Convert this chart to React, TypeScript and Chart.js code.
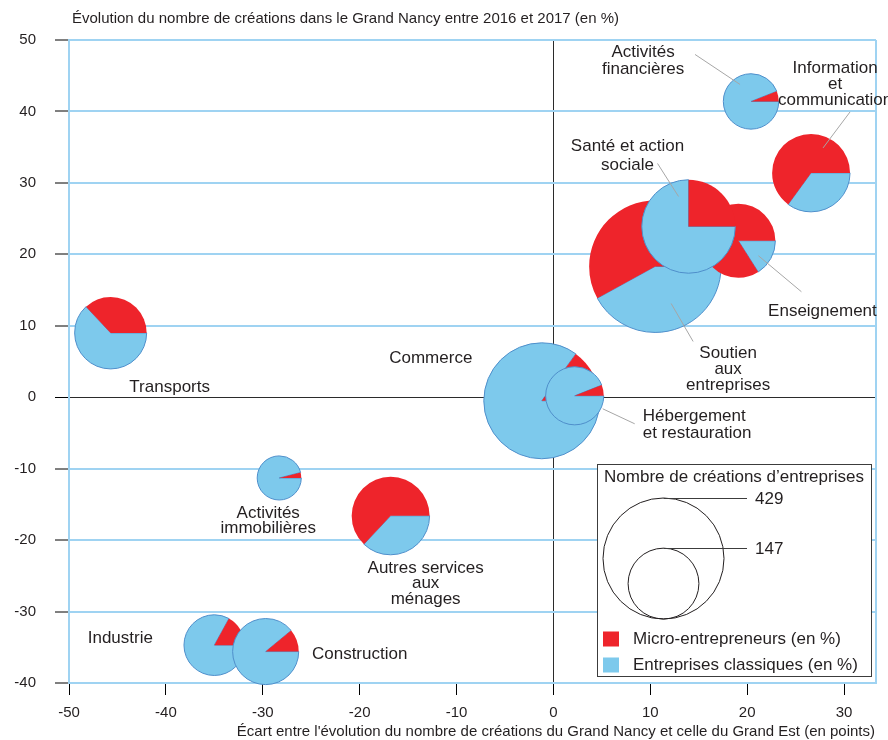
import React, { useEffect, useRef } from 'react';
import { Chart, registerables } from 'chart.js';

Chart.register(...registerables);

// ---------------- data ----------------
const sectors = [
  'Transports',
  'Activités financières',
  'Information et communication',
  'Soutien aux entreprises',
  'Enseignement',
  'Santé et action sociale',
  'Commerce',
  'Hébergement et restauration',
  'Activités immobilières',
  'Autres services aux ménages',
  'Industrie',
  'Construction',
];
// x : écart avec le Grand Est (points)
const gapVsGrandEst = [-45.7, 20.4, 26.6, 10.5, 19.1, 13.95, -1.2, 2.2, -28.3, -16.8, -35.0, -29.7];
// y : évolution des créations dans le Grand Nancy (%)
const evolution = [9.0, 41.4, 31.4, 18.3, 21.9, 23.9, -0.5, 0.2, -11.3, -16.6, -34.7, -35.6];
// nombre de créations d'entreprises
const creations = [152, 90, 178, 510, 160, 256, 394, 99, 57, 178, 108, 128];
// parts (%)
const microPct = [37, 6, 65, 58, 84, 25, 15, 6, 4, 63, 17, 11];
const classicPct = [63, 94, 35, 42, 16, 75, 85, 94, 96, 37, 83, 89];

const xTicks = [-50, -40, -30, -20, -10, 0, 10, 20, 30];
const yTicks = [-40, -30, -20, -10, 0, 10, 20, 30, 40, 50];
const legendSizes = [429, 147];

const titleText = 'Évolution du nombre de créations dans le Grand Nancy entre 2016 et 2017 (en %)';
const xTitleText = "Écart entre l'évolution du nombre de créations du Grand Nancy et celle du Grand Est (en points)";
const legendTitle = 'Nombre de créations d’entreprises';
const legendItems = ['Micro-entrepreneurs (en %)', 'Entreprises classiques (en %)'];

// ---------------- styles / layout ----------------
const RED = '#ee242b';
const BLUE = '#7dc9ec';
const OUTLINE = '#4f8fcb';
const GRID = '#9fd3f2';
const TEXT = '#231f20';
const LEADER = '#a6a6a6';
const FONT = '"Liberation Sans", Arial, Helvetica, sans-serif';
const R_REF = 60.5; // px radius for legendSizes[0]
const radiusFor = (n: number) => R_REF * Math.sqrt(n / legendSizes[0]);

type Ann = {
  lines: string[];
  dx: number;
  dy: number;
  lh: number;
  align?: CanvasTextAlign;
  leader?: [number, number, number, number];
};
// label offsets relative to each pie centre (px)
const annotations: Ann[] = [
  { lines: ['Transports'], dx: 59, dy: 54, lh: 17 },
  { lines: ['Activités', 'financières'], dx: -108, dy: -49, lh: 16.6, leader: [-56, -47, -11, -17] },
  { lines: ['Information', 'et', 'communication'], dx: 24, dy: -105, lh: 16, leader: [39, -61, 12, -25] },
  { lines: ['Soutien', 'aux', 'entreprises'], dx: 73, dy: 87, lh: 16, leader: [16, 37, 38, 75] },
  { lines: ['Enseignement'], dx: 84, dy: 71, lh: 17, leader: [20, 15, 63, 51] },
  { lines: ['Santé et action', 'sociale'], dx: -61, dy: -80, lh: 19, leader: [-31, -63, -10, -30] },
  { lines: ['Commerce'], dx: -111, dy: -42, lh: 17 },
  { lines: ['Hébergement', 'et restauration'], dx: 68, dy: 21, lh: 17, align: 'left', leader: [28, 13, 60, 28] },
  { lines: ['Activités', 'immobilières'], dx: -11, dy: 35, lh: 15.5 },
  { lines: ['Autres services', 'aux', 'ménages'], dx: 35, dy: 52, lh: 15.5 },
  { lines: ['Industrie'], dx: -94, dy: -7, lh: 17 },
  { lines: ['Construction'], dx: 94, dy: 3, lh: 17 },
];

const piePlugin = {
  id: 'pies',
  afterDatasetsDraw(chart: any) {
    const ctx: CanvasRenderingContext2D = chart.ctx;
    const meta = chart.getDatasetMeta(0);
    ctx.save();
    meta.data.forEach((pt: any, i: number) => {
      const cx = pt.x;
      const cy = pt.y;
      const r = radiusFor(creations[i]);
      const aRed = (microPct[i] / 100) * Math.PI * 2;
      const aBlue = (classicPct[i] / 100) * Math.PI * 2;
      // classic (blue), clockwise from 3 o'clock
      ctx.beginPath();
      ctx.moveTo(cx, cy);
      ctx.arc(cx, cy, r, 0, aBlue, false);
      ctx.closePath();
      ctx.fillStyle = BLUE;
      ctx.fill();
      ctx.strokeStyle = OUTLINE;
      ctx.lineWidth = 1;
      ctx.stroke();
      // micro (red), counter-clockwise from 3 o'clock
      ctx.beginPath();
      ctx.moveTo(cx, cy);
      ctx.arc(cx, cy, r, 0, -aRed, true);
      ctx.closePath();
      ctx.fillStyle = RED;
      ctx.fill();
    });
    ctx.restore();
  },
  afterDraw(chart: any) {
    const ctx: CanvasRenderingContext2D = chart.ctx;
    const area = chart.chartArea;
    const meta = chart.getDatasetMeta(0);
    ctx.save();
    // right border
    ctx.strokeStyle = GRID;
    ctx.lineWidth = 2;
    ctx.beginPath();
    ctx.moveTo(area.right, area.top);
    ctx.lineTo(area.right, area.bottom);
    ctx.stroke();

    // annotations
    ctx.font = `17px ${FONT}`;
    ctx.fillStyle = TEXT;
    ctx.textBaseline = 'middle';
    annotations.forEach((a, i) => {
      const pt = meta.data[i];
      if (a.leader) {
        ctx.strokeStyle = LEADER;
        ctx.lineWidth = 1;
        ctx.beginPath();
        ctx.moveTo(pt.x + a.leader[0], pt.y + a.leader[1]);
        ctx.lineTo(pt.x + a.leader[2], pt.y + a.leader[3]);
        ctx.stroke();
      }
      ctx.textAlign = a.align || 'center';
      a.lines.forEach((line, k) => {
        ctx.fillText(line, pt.x + a.dx, pt.y + a.dy + k * a.lh);
      });
    });

    // titles
    ctx.font = `15px ${FONT}`;
    ctx.textAlign = 'left';
    ctx.fillText(titleText, 72, 19);
    ctx.textAlign = 'right';
    ctx.fillText(xTitleText, area.right - 1, 732);

    // legend box
    const bx = 597, by = 464, bw = 274, bh = 212;
    ctx.fillStyle = '#ffffff';
    ctx.fillRect(bx, by, bw, bh);
    ctx.strokeStyle = '#3c3c3c';
    ctx.lineWidth = 1;
    ctx.strokeRect(bx + 0.5, by + 0.5, bw, bh);
    ctx.fillStyle = TEXT;
    ctx.font = `17px ${FONT}`;
    ctx.textAlign = 'center';
    ctx.fillText(legendTitle, bx + bw / 2, by + 13);

    const ccx = 663.5;
    const baseY = 619;
    legendSizes.forEach((n) => {
      const r = radiusFor(n);
      ctx.strokeStyle = '#231f20';
      ctx.lineWidth = 1;
      ctx.beginPath();
      ctx.arc(ccx, baseY - r, r, 0, Math.PI * 2);
      ctx.stroke();
      const top = Math.round(baseY - 2 * r) + 0.5;
      ctx.strokeStyle = '#3c3c3c';
      ctx.beginPath();
      ctx.moveTo(ccx, top);
      ctx.lineTo(747, top);
      ctx.stroke();
      ctx.fillStyle = TEXT;
      ctx.textAlign = 'left';
      ctx.fillText(String(n), 755, top + 1);
    });

    const swatches = [RED, BLUE];
    legendItems.forEach((t, k) => {
      const y = 639 + k * 26;
      ctx.fillStyle = swatches[k];
      ctx.fillRect(603, y - 7.5, 16, 15);
      ctx.fillStyle = TEXT;
      ctx.textAlign = 'left';
      ctx.fillText(t, 633, y);
    });
    ctx.restore();
  },
};

export default function App() {
  const canvasRef = useRef<HTMLCanvasElement | null>(null);

  useEffect(() => {
    if (!canvasRef.current) return;
    const chart = new Chart(canvasRef.current, {
      type: 'scatter',
      data: {
        labels: sectors,
        datasets: [
          {
            label: 'Secteurs',
            data: gapVsGrandEst.map((x, i) => ({ x, y: evolution[i] })),
            pointRadius: 0,
            pointHoverRadius: 0,
          },
        ],
      },
      options: {
        responsive: false,
        animation: false,
        devicePixelRatio: 1,
        layout: { padding: { top: 40, right: 12, left: 0, bottom: 0 } },
        plugins: { legend: { display: false }, tooltip: { enabled: false }, title: { display: false } },
        events: [],
        scales: {
          x: {
            type: 'linear',
            min: -50,
            max: 33.3,
            afterFit: (s: any) => {
              s.height = 57;
            },
            afterBuildTicks: (s: any) => {
              s.ticks = xTicks.map((v) => ({ value: v }));
            },
            ticks: { font: { family: FONT, size: 15 }, color: TEXT, padding: 9, maxRotation: 0 },
            grid: {
              color: (c: any) => (c.tick && c.tick.value === 0 ? '#2b2b2b' : 'rgba(0,0,0,0)'),
              lineWidth: 1,
              tickColor: '#000',
              tickLength: 12,
              tickWidth: 1,
            },
            border: { display: true, color: GRID, width: 2 },
          },
          y: {
            type: 'linear',
            min: -40,
            max: 50,
            afterFit: (s: any) => {
              s.width = 69;
            },
            afterBuildTicks: (s: any) => {
              s.ticks = yTicks.map((v) => ({ value: v }));
            },
            ticks: { font: { family: FONT, size: 15 }, color: TEXT, padding: 19 },
            grid: {
              color: (c: any) => (c.tick && c.tick.value === 0 ? '#2b2b2b' : GRID),
              lineWidth: (c: any) => (c.tick && c.tick.value === 0 ? 1 : 2),
              tickColor: '#000',
              tickLength: 14,
              tickWidth: 1,
            },
            border: { display: true, color: GRID, width: 2 },
          },
        },
      },
      plugins: [piePlugin],
    } as any);
    return () => chart.destroy();
  }, []);

  return (
    <div style={{ position: 'absolute', left: 0, top: 0, width: 888, height: 740, background: '#fff' }}>
      <canvas ref={canvasRef} width={888} height={740} style={{ display: 'block' }} />
    </div>
  );
}
